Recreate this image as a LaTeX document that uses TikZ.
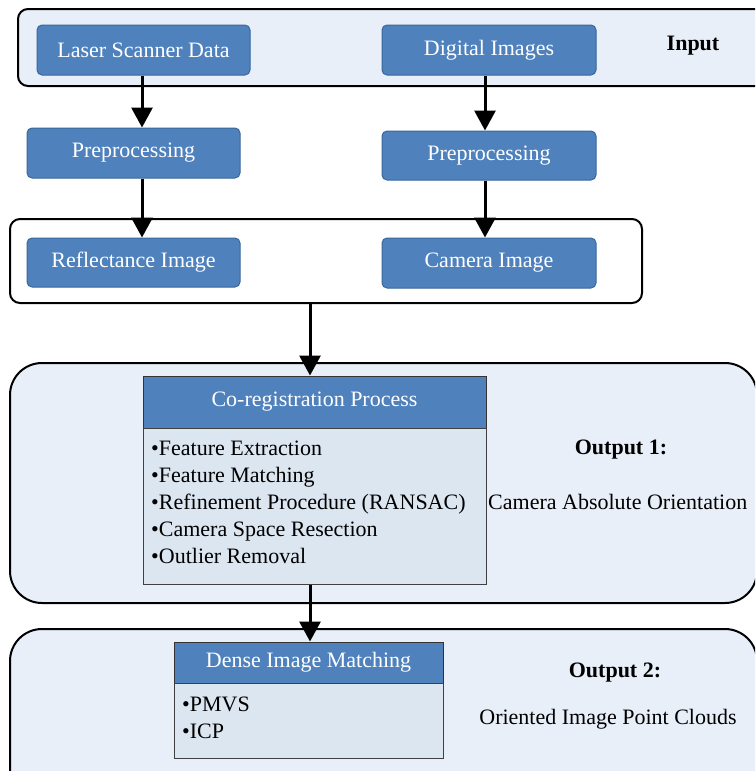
\documentclass[tikz,border=0pt]{standalone}
\usepackage{fontspec}
\setmainfont{Liberation Serif}
\newfontfamily\timesfam{Liberation Serif}
\usetikzlibrary{arrows.meta}
\definecolor{boxblue}{HTML}{4F81BD}
\definecolor{boxedge}{HTML}{3A679B}
\definecolor{panel}{HTML}{E8EFF8}
\definecolor{listfill}{HTML}{DCE6F1}
\tikzset{
  bluebox/.style={draw=boxedge, line width=1pt, fill=boxblue, rounded corners=5pt,
    text=white, inner sep=0pt, minimum width=213pt, minimum height=50pt},
  frame/.style={draw=black, line width=2pt, rounded corners=10pt, inner sep=0pt},
  bigframe/.style={draw=black, line width=2pt, rounded corners=32pt, fill=panel, inner sep=0pt},
  header/.style={draw=black!80, line width=1pt, fill=boxblue, text=white, inner sep=0pt},
  listbody/.style={draw=black!75, line width=1pt, fill=listfill, inner sep=0pt},
  itemtext/.style={align=left, inner sep=0pt, anchor=west},
  label/.style={inner sep=0pt},
  boldlabel/.style={inner sep=0pt, font=\timesfam\fontsize{22}{27}\selectfont\bfseries},
  arr/.style={line width=3pt, -{Triangle[length=20pt 0, width=21pt 0]}}
}
\begin{document}
\begin{tikzpicture}[x=1pt, y=-1pt, font=\timesfam\fontsize{22}{27}\selectfont]
\useasboundingbox (0,0) rectangle (755,771);
\clip (0,0) rectangle (755,771);

% input panel
\node[frame, fill=panel, minimum width=752pt, minimum height=77pt] (inputpanel) at (394,47.5) {};
\node[bluebox] (laser) at (143.5,50) {Laser Scanner Data};
\node[bluebox, minimum width=214pt] (digital) at (489,50) {Digital Images};
\node[boldlabel] (inputlbl) at (693,46) {Input};

% preprocessing
\node[bluebox] (pre1) at (133.5,153) {Preprocessing};
\node[bluebox, minimum width=214pt, minimum height=49pt] (pre2) at (489,155.5) {Preprocessing};

% image panel
\node[frame, fill=white, minimum width=632pt, minimum height=84pt] (imgpanel) at (326,261) {};
\node[bluebox, minimum height=49pt] (refl) at (133.5,262.5) {Reflectance Image};
\node[bluebox, minimum width=214pt] (cam) at (489,263) {Camera Image};

% co-registration panel
\node[bigframe, minimum width=747pt, minimum height=240pt] (panelone) at (383.5,483) {};
\node[header, minimum width=343pt, minimum height=52pt] (coreg) at (314.5,402) {Co-registration Process};
\node[listbody, minimum width=343pt, minimum height=156pt] (coregbody) at (314.5,506) {};
\node[itemtext] (coregitems) at (151,502) {\textbullet Feature Extraction\\
\textbullet Feature Matching\\
\textbullet Refinement Procedure (RANSAC)\\
\textbullet Camera Space Resection\\
\textbullet Outlier Removal};
\node[boldlabel] (outone) at (621,450) {Output 1:};
\node[label, anchor=west] (outonetxt) at (488,502) {Camera Absolute Orientation};

% dense matching panel
\node[bigframe, minimum width=747pt, minimum height=171pt] (paneltwo) at (383.5,714.5) {};
\node[header, minimum width=269pt, minimum height=41pt] (dense) at (308.5,662.5) {Dense Image Matching};
\node[listbody, minimum width=269pt, minimum height=75pt] (densebody) at (308.5,720.5) {};
\node[itemtext] (denseitems) at (182,718) {\textbullet PMVS\\
\textbullet ICP};
\node[boldlabel] (outtwo) at (615,673) {Output 2:};
\node[label] (outtwotxt) at (608,719) {Oriented Image Point Clouds};

% flow arrows
\draw[arr] ([xshift=-1.5pt]laser.south) -- ([xshift=-1.5pt]laser.south |- pre1.north);
\draw[arr] ([xshift=8.5pt]pre1.south) -- ([xshift=8.5pt]pre1.south |- refl.north);
\draw[arr] ([xshift=-4pt]digital.south) -- ([xshift=-4pt]digital.south |- pre2.north);
\draw[arr] ([xshift=-4pt]pre2.south) -- ([xshift=-4pt]pre2.south |- cam.north);
\draw[arr] ([xshift=-4.5pt]coreg.north |- imgpanel.south) -- ([xshift=-4.5pt]coreg.north);
\draw[arr] ([xshift=-4.5pt]coregbody.south) -- ([xshift=-4.5pt]coregbody.south |- dense.north);
\end{tikzpicture}
\end{document}
